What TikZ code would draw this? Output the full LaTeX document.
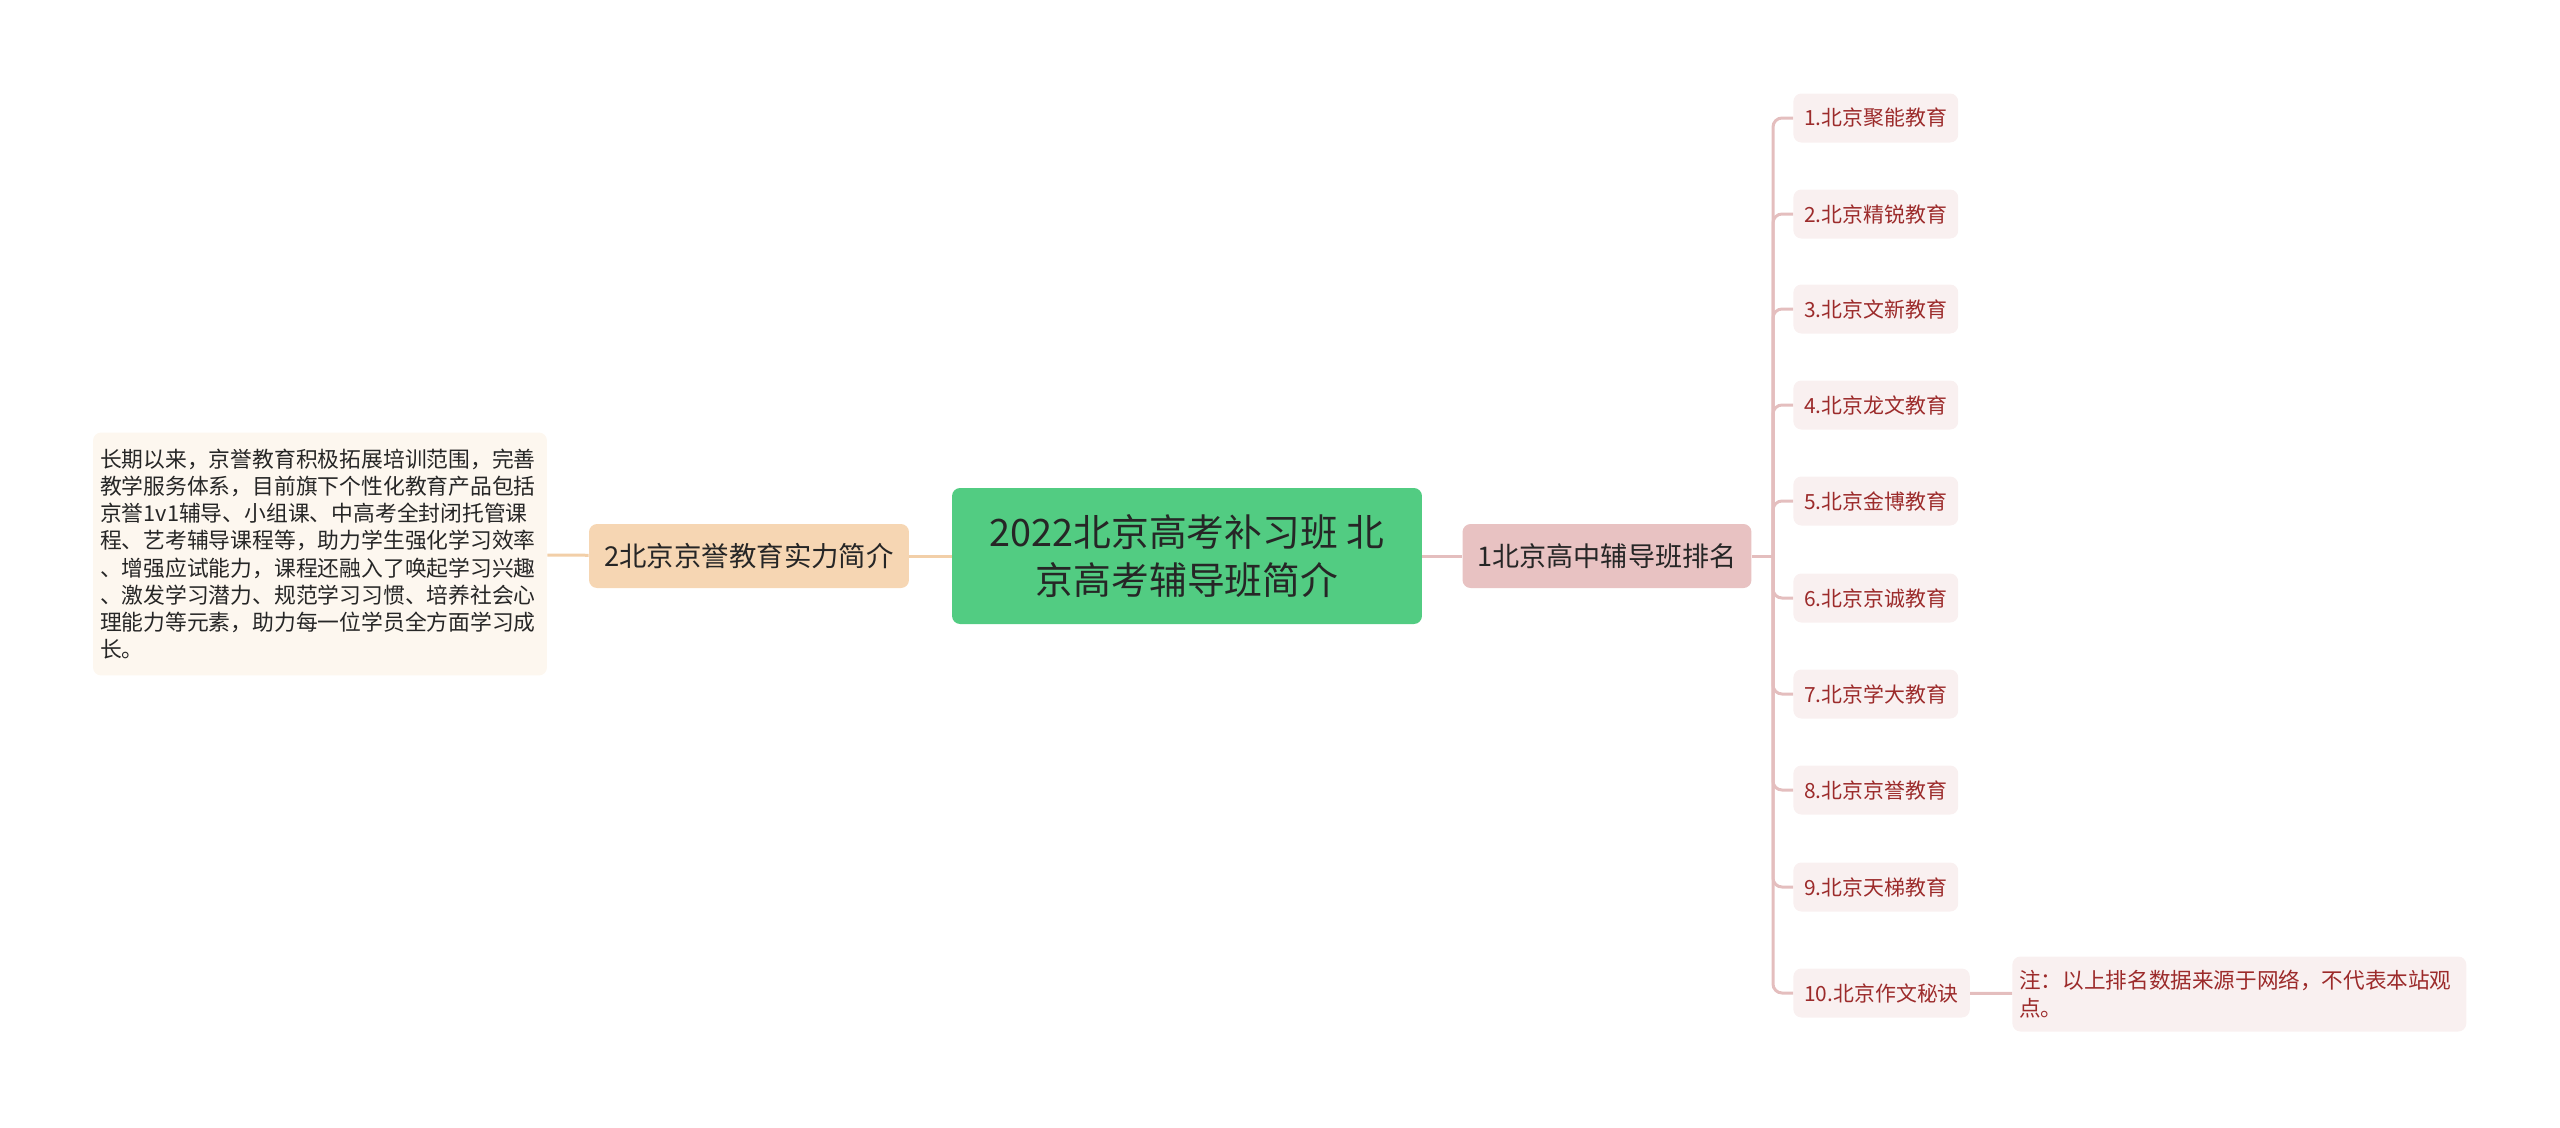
\documentclass[tikz,border=0pt]{standalone}
\usepackage{fontspec}
\setmainfont{Noto Sans CJK SC}
\definecolor{rootfill}{HTML}{52CC82}
\definecolor{leftfill}{HTML}{F6D6B3}
\definecolor{leaffill}{HTML}{FDF7EF}
\definecolor{leftline}{HTML}{F2CFA8}
\definecolor{rightfill}{HTML}{E8C2C2}
\definecolor{itemfill}{HTML}{F9F0F0}
\definecolor{itemtext}{HTML}{9C2B2B}
\definecolor{rightline}{HTML}{E4BEBE}
\tikzset{
  box/.style={rounded corners=0.16cm, inner sep=0pt, align=center},
  rootbox/.style={box, fill=rootfill, text=black!85, minimum width=9.4cm, minimum height=2.72cm,
    font=\fontsize{21.5}{27}\selectfont},
  leftbox/.style={box, fill=leftfill, text=black!85, minimum width=6.4cm, minimum height=1.28cm,
    font=\fontsize{15.6}{19}\selectfont},
  rightbox/.style={box, fill=rightfill, text=black!85, minimum width=5.78cm, minimum height=1.28cm,
    font=\fontsize{15.4}{19}\selectfont},
  leafbox/.style={box, fill=leaffill, text=black!85, align=left, text width=8.8cm, inner xsep=0.14cm,
    minimum height=4.86cm, font=\fontsize{12.4}{15.5}\selectfont},
  itembox/.style={box, fill=itemfill, text=itemtext, anchor=west, inner xsep=0.22cm,
    minimum height=0.98cm, font=\fontsize{11.9}{14}\selectfont},
  notebox/.style={box, fill=itemfill, text=itemtext, anchor=west, align=left, text width=8.8cm,
    inner xsep=0.14cm, minimum height=1.5cm, font=\fontsize{12.3}{15.7}\selectfont},
}
\begin{document}
\begin{tikzpicture}[x=0.02cm, y=-0.02cm]
      \useasboundingbox (0,0) rectangle (2560,1127);
      \draw
        (1187,556) node[rootbox] (root){2022北京高考补习班 北\\京高考辅导班简介}
        (749,556) node[leftbox] (l1){2北京京誉教育实力简介}
        (320,554) node[leafbox] (leaf){长期以来，京誉教育积极拓展培训范围，完善\\
          教学服务体系，目前旗下个性化教育产品包括\\
          京誉1v1辅导、小组课、中高考全封闭托管课\\
          程、艺考辅导课程等，助力学生强化学习效率\\
          、增强应试能力，课程还融入了唤起学习兴趣\\
          、激发学习潜力、规范学习习惯、培养社会心\\
          理能力等元素，助力每一位学员全方面学习成\\
          长。}
        (1607,556) node[rightbox] (r1){1北京高中辅导班排名}
        (1793,118) node[itembox] (c1){1.北京聚能教育}
        (1793,214) node[itembox] (c2){2.北京精锐教育}
        (1793,309) node[itembox] (c3){3.北京文新教育}
        (1793,405) node[itembox] (c4){4.北京龙文教育}
        (1793,501) node[itembox] (c5){5.北京金博教育}
        (1793,598) node[itembox] (c6){6.北京京诚教育}
        (1793,694) node[itembox] (c7){7.北京学大教育}
        (1793,790) node[itembox] (c8){8.北京京誉教育}
        (1793,887) node[itembox] (c9){9.北京天梯教育}
        (1793,993) node[itembox] (c10){10.北京作文秘诀}
        (2012,994) node[notebox] (note){注：以上排名数据来源于网络，不代表本站观\\点。};
      \coordinate (t) at (1773,556);
      \begin{scope}[line width=0.06cm, leftline]
        \draw (root) to (l1);
        \draw (l1) to (leaf);
      \end{scope}
      \begin{scope}[line width=0.06cm, rightline, rounded corners=0.18cm]
        \draw (root) to (r1);
        \draw (r1.east) -- (t);
        \draw (t) |- (c1.west);
        \draw (t) |- (c2.west);
        \draw (t) |- (c3.west);
        \draw (t) |- (c4.west);
        \draw (t) |- (c5.west);
        \draw (t) |- (c6.west);
        \draw (t) |- (c7.west);
        \draw (t) |- (c8.west);
        \draw (t) |- (c9.west);
        \draw (t) |- (c10.west);
        \draw (c10) to (note);
      \end{scope}
    \end{tikzpicture}
\end{document}
